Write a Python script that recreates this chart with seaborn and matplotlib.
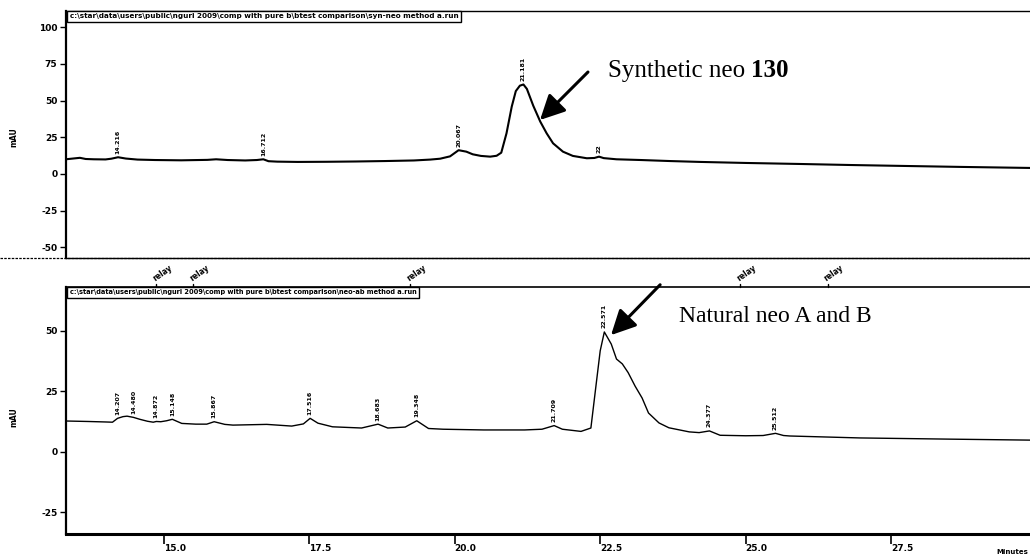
import numpy as np
import matplotlib
matplotlib.use("Agg")
import matplotlib.pyplot as plt
from matplotlib.lines import Line2D
import seaborn as sns

# ---- chromatogram traces (retention time in minutes, absorbance in mAU) ----
syn_time = [13.316, 13.56, 13.66, 13.8, 14.0, 14.1, 14.216, 14.35, 14.55, 14.85,
            15.3, 15.75, 15.9, 16.1, 16.4, 16.6, 16.712, 16.8, 16.95, 17.3,
            17.8, 18.3, 18.8, 19.3, 19.58, 19.75, 19.92, 20.067, 20.2, 20.31,
            20.45, 20.61, 20.72, 20.8, 20.89, 20.98, 21.05, 21.12, 21.181, 21.24,
            21.35, 21.47, 21.58, 21.69, 21.86, 22.03, 22.27, 22.4, 22.48, 22.56,
            22.78, 23.2, 23.7, 24.22, 25.0, 25.94, 26.8, 27.66, 28.7, 29.885]
syn_mau = [10.0, 11.0, 10.2, 10.0, 9.9, 10.4, 11.4, 10.5, 9.8, 9.5,
           9.3, 9.6, 10.0, 9.5, 9.2, 9.5, 10.0, 8.7, 8.4, 8.2,
           8.3, 8.5, 8.8, 9.2, 9.8, 10.4, 12.0, 16.2, 15.2, 13.4,
           12.3, 11.8, 12.4, 14.5, 27.7, 45.9, 56.5, 60.2, 61.0, 58.0,
           46.5, 35.7, 27.7, 20.9, 15.2, 12.3, 10.7, 10.9, 11.8, 10.8,
           10.0, 9.5, 8.8, 8.2, 7.5, 6.8, 6.1, 5.5, 4.8, 4.1]

nat_time = [13.316, 13.7, 14.0, 14.12, 14.207, 14.3, 14.37, 14.48, 14.59, 14.72,
            14.82, 14.872, 14.95, 15.05, 15.148, 15.31, 15.55, 15.74, 15.867, 16.05,
            16.19, 16.77, 17.2, 17.4, 17.516, 17.65, 17.9, 18.4, 18.683, 18.85,
            19.15, 19.348, 19.55, 19.8, 20.5, 21.2, 21.5, 21.709, 21.85, 22.17,
            22.34, 22.43, 22.5, 22.571, 22.69, 22.78, 22.88, 22.98, 23.1, 23.22,
            23.33, 23.51, 23.68, 24.03, 24.2, 24.377, 24.56, 25.0, 25.3, 25.512,
            25.65, 25.76, 26.96, 28.51, 29.885]
nat_mau = [12.7, 12.5, 12.3, 12.2, 13.8, 14.5, 14.7, 14.2, 13.4, 12.6,
           12.2, 12.5, 12.4, 12.8, 13.4, 11.7, 11.4, 11.4, 12.4, 11.3,
           11.0, 11.3, 10.6, 11.5, 13.8, 11.8, 10.3, 9.8, 11.4, 9.8,
           10.2, 12.8, 9.6, 9.3, 9.0, 9.0, 9.3, 10.8, 9.3, 8.4,
           9.8, 27.8, 41.7, 49.5, 44.5, 38.3, 36.3, 32.7, 27.1, 22.2,
           16.0, 11.9, 9.9, 8.2, 7.9, 8.6, 6.8, 6.6, 6.7, 7.6,
           6.7, 6.5, 5.7, 5.2, 4.8]

# integrated peak retention times printed above each trace
syn_peaks = [14.216, 16.712, 20.067, 21.181, 22.48]
syn_peak_text = ["14.216", "16.712", "20.067", "21.181", "22"]
nat_peaks = [14.207, 14.480, 14.872, 15.148, 15.867, 17.516, 18.683, 19.348,
             21.709, 22.571, 24.377, 25.512]
nat_peak_text = ["14.207", "14.480", "14.872", "15.148", "15.867", "17.516",
                 "18.683", "19.348", "21.709", "22.571", "24.377", "25.512"]

# timed events shown along the upper edge of the lower run
event_times = [14.87, 15.51, 19.23, 24.90, 26.41]
event_text = "relay"

x_ticks = [15.0, 17.5, 20.0, 22.5, 25.0, 27.5]
x_tick_text = ["15.0", "17.5", "20.0", "22.5", "25.0", "27.5"]
syn_yticks = [-50, -25, 0, 25, 50, 75, 100]
nat_yticks = [-25, 0, 25, 50]

syn_file = r"c:\star\data\users\public\nguri 2009\comp with pure b\btest comparison\syn-neo method a.run"
nat_file = r"c:\star\data\users\public\nguri 2009\comp with pure b\btest comparison\neo-ab method a.run"

sns.set_style("white")
plt.rcParams["font.family"] = ["DejaVu Sans"]
for key in ("text.color", "axes.labelcolor", "xtick.color", "ytick.color",
            "axes.edgecolor"):
    plt.rcParams[key] = "black"

W, H = 1030, 558
fig = plt.figure(figsize=(W / 100, H / 100), dpi=100)


def frame(left, top, right, bottom):
    return [left / W, 1 - bottom / H, (right - left) / W, (bottom - top) / H]


ax_top = fig.add_axes(frame(65.7, 11, 1030, 258))
ax_bot = fig.add_axes(frame(65.7, 286.7, 1030, 534))

sns.lineplot(x=syn_time, y=syn_mau, ax=ax_top, color="black", linewidth=1.5,
             estimator=None, sort=False)
sns.lineplot(x=nat_time, y=nat_mau, ax=ax_bot, color="black", linewidth=1.0,
             estimator=None, sort=False)

for ax in (ax_top, ax_bot):
    ax.set_xlim(13.316, 29.885)
    ax.set_xlabel("")
    ax.set_ylabel("mAU", fontsize=5.5, fontweight="bold", color="black")
    ax.spines["right"].set_visible(False)
    ax.spines["left"].set_linewidth(1.6)
    ax.tick_params(axis="y", direction="out", length=4, width=1, pad=2,
                   labelsize=6.5, left=True, colors="black")

ax_top.set_ylim(-57.3, 111.1)
ax_bot.set_ylim(-34.0, 68.2)
ax_top.yaxis.set_label_coords(-0.049, 0.49)
ax_bot.yaxis.set_label_coords(-0.049, 0.473)

ax_top.set_yticks(syn_yticks)
ax_top.set_yticklabels([str(v) for v in syn_yticks])
ax_bot.set_yticks(nat_yticks)
ax_bot.set_yticklabels([str(v) for v in nat_yticks])
ax_top.set_xticks([])
for sp in ("top", "bottom"):
    ax_top.spines[sp].set_linestyle((0, (2, 1)))
    ax_top.spines[sp].set_linewidth(1.0)

ax_bot.set_xticks(x_ticks)
ax_bot.set_xticklabels(x_tick_text, ha="left")
ax_bot.tick_params(axis="x", direction="out", length=7, width=1.2, pad=0,
                   labelsize=6.5, bottom=True, colors="black")
ax_bot.spines["bottom"].set_linewidth(2.2)
ax_bot.spines["top"].set_linewidth(1.2)

for ax in (ax_top, ax_bot):
    for lbl in ax.get_xticklabels() + ax.get_yticklabels():
        lbl.set_fontweight("bold")

# dashed separator running across the whole sheet under the upper run
fig.add_artist(Line2D([0, 1], [1 - 258 / H] * 2, transform=fig.transFigure,
                      color="black", lw=0.9, ls=(0, (2, 1))))

# run file headers
for ax, name, size in ((ax_top, syn_file, 5.2), (ax_bot, nat_file, 4.75)):
    ax.text(0.004, 0.99, name, transform=ax.transAxes, ha="left", va="top",
            fontsize=size, fontweight="bold",
            bbox=dict(boxstyle="square,pad=0.4", fc="white", ec="black", lw=1.0))

# peak retention-time labels
for ax, times, vals, peaks, texts in ((ax_top, syn_time, syn_mau, syn_peaks, syn_peak_text),
                                      (ax_bot, nat_time, nat_mau, nat_peaks, nat_peak_text)):
    for t, s in zip(peaks, texts):
        ax.annotate(s, xy=(t, np.interp(t, times, vals)), xytext=(0, 2.5),
                    textcoords="offset points", rotation=90, ha="center",
                    va="bottom", fontsize=4.5, fontweight="bold")

# event marks above the lower run
xtr = ax_bot.get_xaxis_transform()
for t in event_times:
    ax_bot.plot([t, t], [1.0, 1.012], transform=xtr, color="black", lw=1,
                clip_on=False)
    ax_bot.annotate(event_text, xy=(t, 1.015), xycoords=xtr, xytext=(0, 0),
                    textcoords="offset points", rotation=35, rotation_mode="anchor",
                    ha="left", va="bottom", fontsize=5.5, fontweight="bold",
                    annotation_clip=False)

# peak callouts
arrow = dict(arrowstyle="-|>,head_length=1.5,head_width=0.75", lw=2.2,
             color="black", shrinkA=0, shrinkB=0)
ax_top.annotate("", xy=(21.466, 36.8), xytext=(22.29, 69.5), arrowprops=arrow,
                annotation_clip=False)
ax_bot.annotate("", xy=(22.686, 48.2), xytext=(23.53, 69.0), arrowprops=arrow,
                annotation_clip=False)

t1 = ax_top.text(22.634, 66.1, "Synthetic neo ", family="Liberation Serif",
                 fontsize=18, va="baseline", ha="left", color="black")
ax_top.annotate("130", xy=(1, 0), xycoords=t1, va="bottom", ha="left",
                family="Liberation Serif", fontsize=18, fontweight="bold",
                color="black")
ax_bot.text(23.855, 53.6, "Natural neo A and B", family="Liberation Serif",
            fontsize=17, va="baseline", ha="left", color="black")

fig.text(1028 / W, 1 - 552 / H, "Minutes", ha="right", va="center",
         fontsize=5, fontweight="bold")

fig.savefig("out.png", dpi=100)
